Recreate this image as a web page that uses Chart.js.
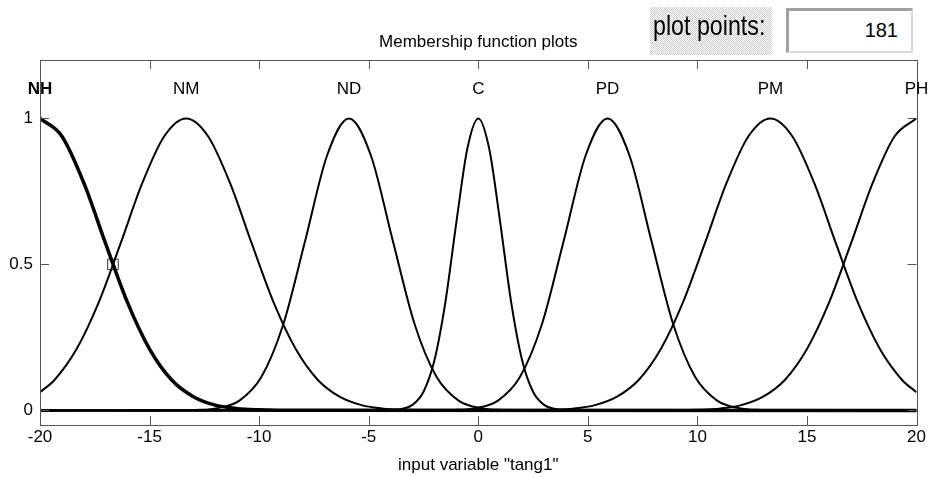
<!DOCTYPE html>
<html>
<head>
<meta charset="utf-8">
<title>Membership function plots</title>
<script src="https://cdn.jsdelivr.net/npm/chart.js@4"></script>
<style>
  body { margin: 0; background: #fff; }
  #wrap { position: relative; width: 928px; height: 477px; overflow: hidden; }
  #mfChart { position: absolute; left: 0; top: 0; }
  .stipple { background: repeating-conic-gradient(#cdcdcd 0 25%, #fff 0 50%) 0 0 / 2px 2px; }
  #ppLabel { position: absolute; left: 650px; top: 7px; width: 122px; height: 48px; }
  #ppLabel span {
    position: absolute; left: 3px; top: 3px; line-height: 29px;
    font: 28px 'Liberation Sans', Arial, sans-serif; color: #000;
    transform: scaleX(0.83); transform-origin: left top; white-space: nowrap;
  }
  #ppBox {
    position: absolute; left: 786px; top: 8px; width: 127px; height: 45px; box-sizing: border-box;
    background: #fff; border-top: 3px solid #a0a0a0; border-left: 3px solid #a0a0a0;
    border-right: 2px solid #d8d8d8; border-bottom: 2px solid #d8d8d8;
    font: 20px 'Liberation Sans', Arial, sans-serif; color: #000;
    text-align: right; padding-right: 13px; line-height: 38px;
  }
</style>
</head>
<body>
<div id="wrap">
  <canvas id="mfChart" width="928" height="477"></canvas>
  <div id="ppLabel" class="stipple"><span>plot points:</span></div>
  <div id="ppBox">181</div>
</div>
<script>
'use strict';

// membership function names and where their peaks sit
var mfNames = ['NH', 'NM', 'ND', 'C', 'PD', 'PM', 'PH'];
var mfCenters = [-20, -13.33, -5.9, 0, 5.9, 13.33, 20];

// axis ticks
var xTicks = [-20, -15, -10, -5, 0, 5, 10, 15, 20];
var yTicks = [0, 0.5, 1];

// curve values
var nhX = [-20, -19, -18, -17, -16, -15, -14, -13, -12, -11, -10, -9, -8, 20];
var nhY = [1, 0.939, 0.779, 0.570, 0.368, 0.210, 0.105, 0.047, 0.018, 0.006, 0.002, 0.0005, 0.0001, 0];

var nmX = [-20, -19.33, -18.33, -17.33, -16.33, -15.33, -14.33, -13.33, -12.33, -11.33, -10.33, -9.33, -8.33, -7.33, -6.33, -5.33, -4.33, -3.33, -2.33, 20];
var nmY = [0.062, 0.105, 0.210, 0.368, 0.570, 0.779, 0.939, 1, 0.939, 0.779, 0.570, 0.368, 0.210, 0.105, 0.047, 0.018, 0.006, 0.002, 0.0005, 0];

var ndX = [-20, -13.9, -12.9, -11.9, -10.9, -9.9, -8.9, -7.9, -6.9, -5.9, -4.9, -3.9, -2.9, -1.9, -0.9, 0.1, 1.1, 2.1, 20];
var ndY = [0, 0.0002, 0.0013, 0.0075, 0.0335, 0.114, 0.294, 0.581, 0.873, 1, 0.873, 0.581, 0.294, 0.114, 0.0335, 0.0075, 0.0013, 0.0002, 0];

var cX = [-20, -4.5, -4, -3.5, -3, -2.5, -2, -1.5, -1, -0.5, 0, 0.5, 1, 1.5, 2, 2.5, 3, 3.5, 4, 4.5, 20];
var cY = [0, 0, 0.001, 0.005, 0.019, 0.064, 0.172, 0.371, 0.644, 0.896, 1, 0.896, 0.644, 0.371, 0.172, 0.064, 0.019, 0.005, 0.001, 0, 0];

var pdX = [-20, -2.1, -1.1, -0.1, 0.9, 1.9, 2.9, 3.9, 4.9, 5.9, 6.9, 7.9, 8.9, 9.9, 10.9, 11.9, 12.9, 13.9, 20];
var pdY = [0, 0.0002, 0.0013, 0.0075, 0.0335, 0.114, 0.294, 0.581, 0.873, 1, 0.873, 0.581, 0.294, 0.114, 0.0335, 0.0075, 0.0013, 0.0002, 0];

var pmX = [-20, 2.33, 3.33, 4.33, 5.33, 6.33, 7.33, 8.33, 9.33, 10.33, 11.33, 12.33, 13.33, 14.33, 15.33, 16.33, 17.33, 18.33, 19.33, 20];
var pmY = [0, 0.0005, 0.002, 0.006, 0.018, 0.047, 0.105, 0.210, 0.368, 0.570, 0.779, 0.939, 1, 0.939, 0.779, 0.570, 0.368, 0.210, 0.105, 0.062];

var phX = [-20, 8, 9, 10, 11, 12, 13, 14, 15, 16, 17, 18, 19, 20];
var phY = [0, 0.0001, 0.0005, 0.002, 0.006, 0.018, 0.047, 0.105, 0.210, 0.368, 0.570, 0.779, 0.939, 1];

// the little square on the selected curve
var markerX = [-16.67];
var markerY = [0.5];

Chart.defaults.font.family = "'Liberation Sans', Arial, sans-serif";
Chart.defaults.font.size = 17;
Chart.defaults.color = '#000';

function pts(xs, ys) {
  return xs.map(function(x, i) { return {x: x, y: ys[i]}; });
}

function mfLine(label, xs, ys, width) {
  return {
    label: label,
    data: pts(xs, ys),
    borderColor: '#000',
    borderWidth: width,
    pointRadius: 0,
    cubicInterpolationMode: 'monotone',
    fill: false
  };
}

// frame, inward ticks, mf names and the title
var mfFrame = {
  id: 'mfFrame',
  afterDraw: function(chart) {
    var ctx = chart.ctx;
    var a = chart.chartArea;
    var x = chart.scales.x, y = chart.scales.y;
    ctx.save();
    ctx.strokeStyle = '#555';
    ctx.lineWidth = 1;
    ctx.strokeRect(Math.round(a.left) + 0.5, Math.round(a.top) + 0.5, Math.round(a.right - a.left), Math.round(a.bottom - a.top));
    ctx.beginPath();
    xTicks.forEach(function(v) {
      var px = Math.round(x.getPixelForValue(v)) + 0.5;
      ctx.moveTo(px, a.top); ctx.lineTo(px, a.top + 9);
      ctx.moveTo(px, a.bottom); ctx.lineTo(px, a.bottom - 9);
    });
    yTicks.forEach(function(v) {
      var py = Math.round(y.getPixelForValue(v)) + 0.5;
      ctx.moveTo(a.left, py); ctx.lineTo(a.left + 9, py);
      ctx.moveTo(a.right, py); ctx.lineTo(a.right - 9, py);
    });
    ctx.stroke();

    ctx.fillStyle = '#000';
    ctx.textAlign = 'center';
    ctx.textBaseline = 'middle';
    for (var i = 0; i < mfNames.length; i++) {
      ctx.font = (i === 0 ? 'bold ' : '') + "17px 'Liberation Sans', Arial, sans-serif";
      ctx.fillText(mfNames[i], x.getPixelForValue(mfCenters[i]), y.getPixelForValue(1.1));
    }
    ctx.font = "17px 'Liberation Sans', Arial, sans-serif";
    ctx.fillText('Membership function plots', (a.left + a.right) / 2, 42);
    ctx.restore();
  }
};

var ctx = document.getElementById('mfChart').getContext('2d');
new Chart(ctx, {
  type: 'line',
  data: {
    datasets: [
      mfLine('NM', nmX, nmY, 2),
      mfLine('ND', ndX, ndY, 2),
      mfLine('C', cX, cY, 2),
      mfLine('PD', pdX, pdY, 2),
      mfLine('PM', pmX, pmY, 2),
      mfLine('PH', phX, phY, 2),
      mfLine('NH', nhX, nhY, 3.5),
      {
        label: 'marker',
        data: pts(markerX, markerY),
        showLine: false,
        pointStyle: 'rect',
        pointRadius: 7.5,
        pointBorderWidth: 1,
        pointBorderColor: '#333',
        pointBackgroundColor: 'rgba(0,0,0,0)'
      }
    ]
  },
  options: {
    responsive: false,
    animation: false,
    devicePixelRatio: 1,
    layout: { padding: { top: 60, right: 11, left: 0, bottom: 0 } },
    plugins: {
      legend: { display: false },
      tooltip: { enabled: false }
    },
    scales: {
      x: {
        type: 'linear',
        min: -20,
        max: 20,
        grid: { display: false, drawTicks: false },
        border: { display: false },
        afterBuildTicks: function(scale) {
          scale.ticks = xTicks.map(function(v) { return {value: v}; });
        },
        ticks: { padding: 2, maxRotation: 0, autoSkip: false },
        title: {
          display: true,
          text: 'input variable "tang1"',
          padding: { top: 0, bottom: 1 }
        },
        afterFit: function(scale) { scale.height = 52; }
      },
      y: {
        min: -0.05,
        max: 1.2,
        grid: { display: false, drawTicks: false },
        border: { display: false },
        afterBuildTicks: function(scale) {
          scale.ticks = yTicks.map(function(v) { return {value: v}; });
        },
        ticks: {
          padding: 7,
          callback: function(v) { return String(v); }
        },
        afterFit: function(scale) { scale.width = 40; }
      }
    }
  },
  plugins: [mfFrame]
});
</script>
</body>
</html>
